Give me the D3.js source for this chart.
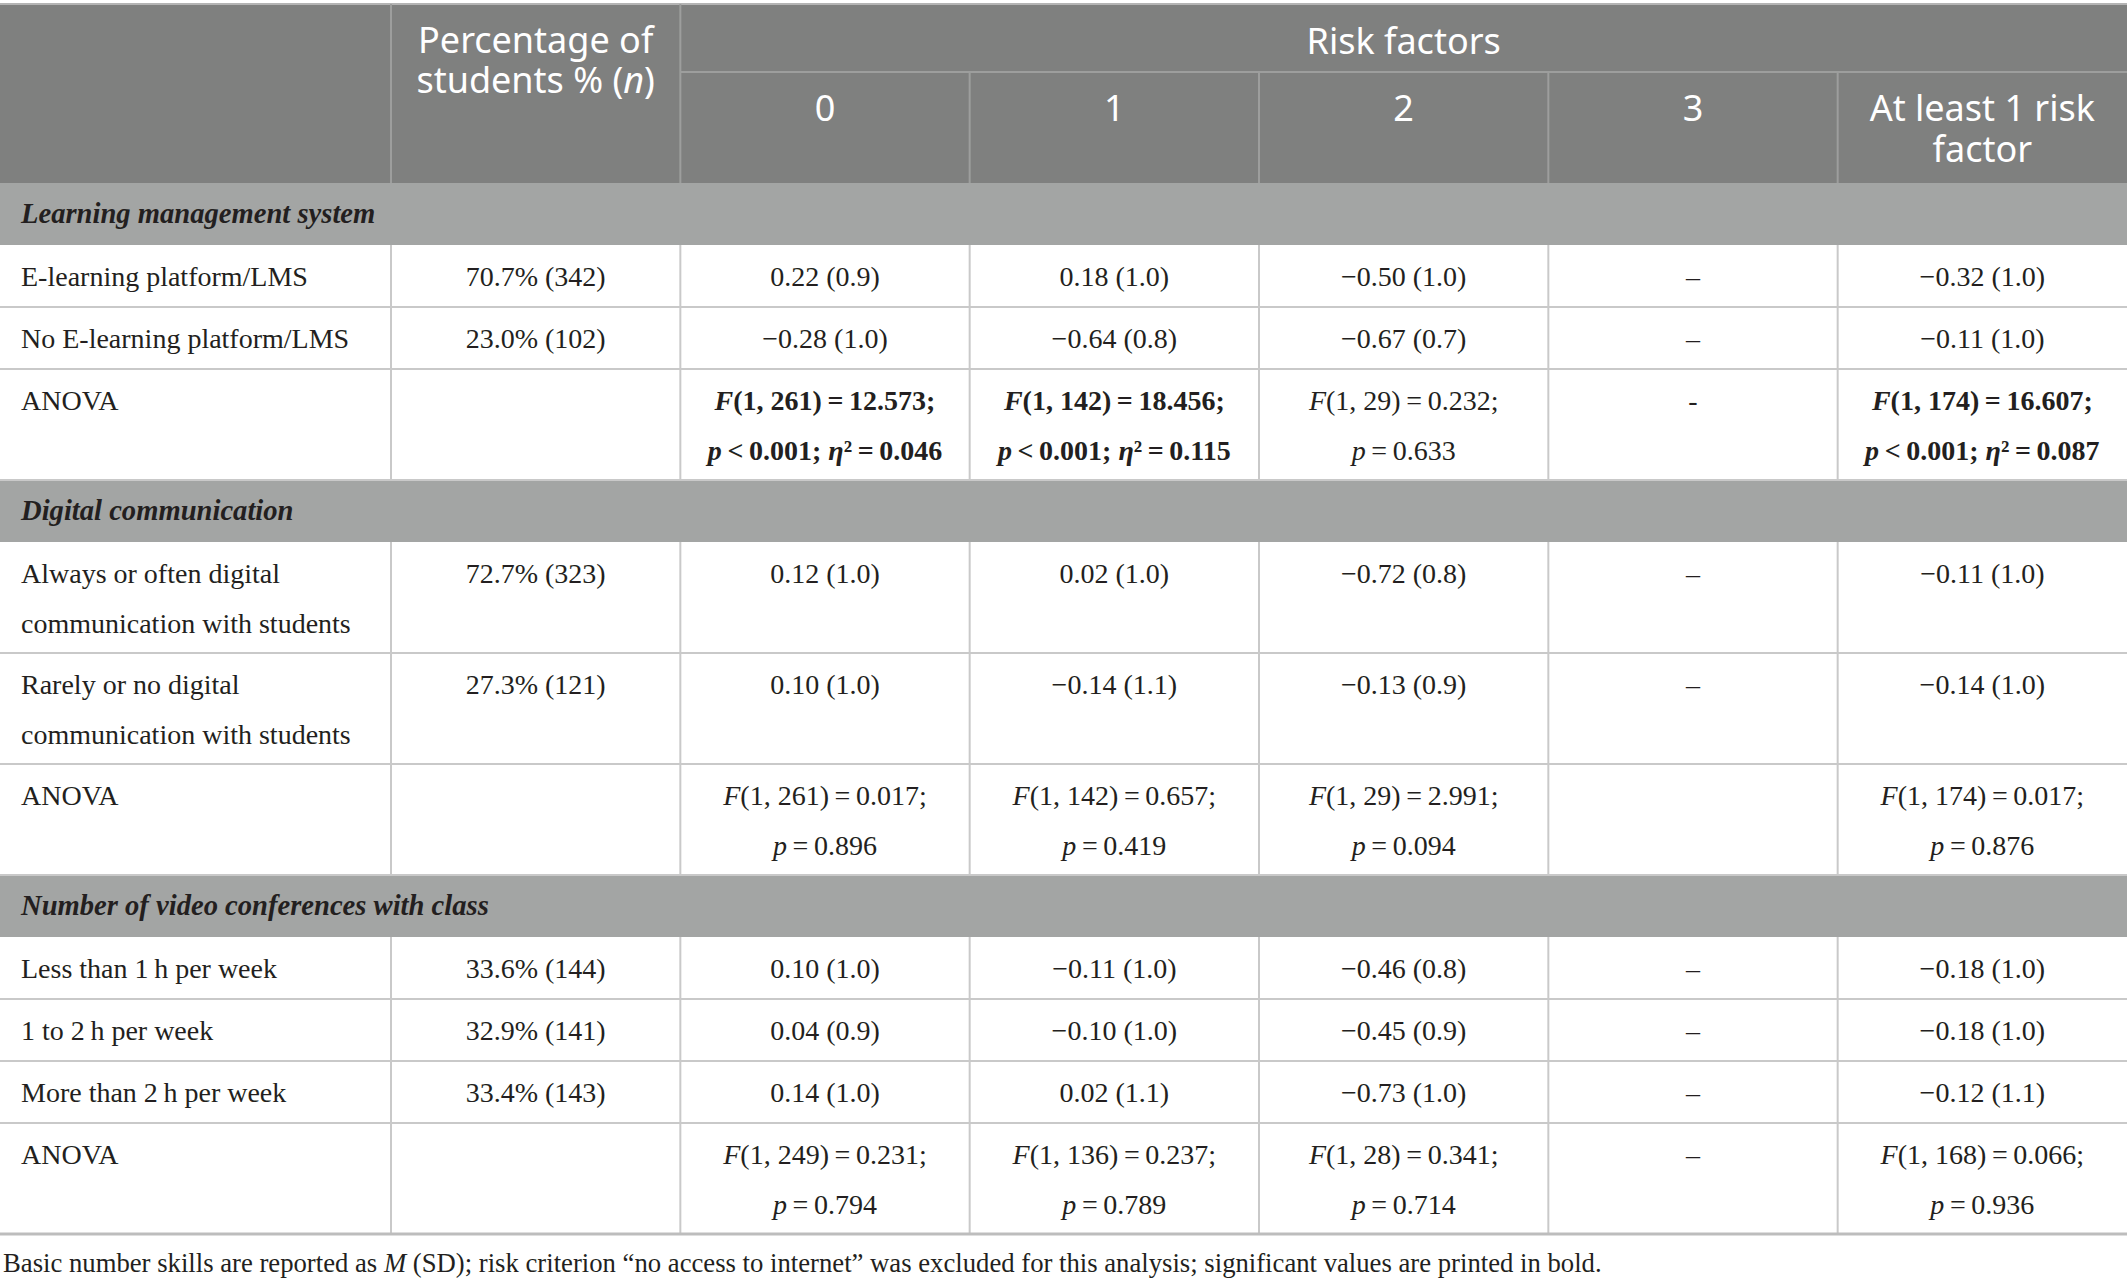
<!DOCTYPE html>
<html lang="en">
<head>
<meta charset="UTF-8">
<title>Basic number skills by risk factors</title>
<style>
body {margin: 0; background: #fff;}
svg text {font-family: "Liberation Serif", "Times New Roman", serif; fill: #231f20;}
svg text.head {font-family: "Noto Sans", "Open Sans", sans-serif; fill: #fff;}
</style>
</head>
<body>
<div id="table"></div>
<script src="https://d3js.org/d3.v7.min.js"></script>
<script>

// header texts
var percentHeader = ["Percentage of", "students % (n)"];
var groupHeader = "Risk factors";
var riskHeaders = [["0"], ["1"], ["2"], ["3"], ["At least 1 risk", "factor"]];
var sectionNames = ["Learning management system", "Digital communication", "Number of video conferences with class"];

// learning management system
var lmsLabels = [["E-learning platform/LMS"], ["No E-learning platform/LMS"]];
var lmsPercent = ["70.7% (342)", "23.0% (102)"];
var lmsValues = [
  ["0.22 (0.9)", "0.18 (1.0)", "−0.50 (1.0)", "–", "−0.32 (1.0)"],
  ["−0.28 (1.0)", "−0.64 (0.8)", "−0.67 (0.7)", "–", "−0.11 (1.0)"]
];
var lmsAnovaDf = ["1, 261", "1, 142", "1, 29", null, "1, 174"];
var lmsAnovaF = ["12.573", "18.456", "0.232", "-", "16.607"];
var lmsAnovaP = ["< 0.001", "< 0.001", "= 0.633", null, "< 0.001"];
var lmsAnovaEta = ["0.046", "0.115", null, null, "0.087"];
var lmsAnovaBold = [true, true, false, false, true];

// digital communication
var digLabels = [["Always or often digital", "communication with students"], ["Rarely or no digital", "communication with students"]];
var digPercent = ["72.7% (323)", "27.3% (121)"];
var digValues = [
  ["0.12 (1.0)", "0.02 (1.0)", "−0.72 (0.8)", "–", "−0.11 (1.0)"],
  ["0.10 (1.0)", "−0.14 (1.1)", "−0.13 (0.9)", "–", "−0.14 (1.0)"]
];
var digAnovaDf = ["1, 261", "1, 142", "1, 29", null, "1, 174"];
var digAnovaF = ["0.017", "0.657", "2.991", "", "0.017"];
var digAnovaP = ["= 0.896", "= 0.419", "= 0.094", null, "= 0.876"];
var digAnovaEta = [null, null, null, null, null];
var digAnovaBold = [false, false, false, false, false];

// video conferences
var vidLabels = [["Less than 1\u2009h per week"], ["1 to 2\u2009h per week"], ["More than 2\u2009h per week"]];
var vidPercent = ["33.6% (144)", "32.9% (141)", "33.4% (143)"];
var vidValues = [
  ["0.10 (1.0)", "−0.11 (1.0)", "−0.46 (0.8)", "–", "−0.18 (1.0)"],
  ["0.04 (0.9)", "−0.10 (1.0)", "−0.45 (0.9)", "–", "−0.18 (1.0)"],
  ["0.14 (1.0)", "0.02 (1.1)", "−0.73 (1.0)", "–", "−0.12 (1.1)"]
];
var vidAnovaDf = ["1, 249", "1, 136", "1, 28", null, "1, 168"];
var vidAnovaF = ["0.231", "0.237", "0.341", "–", "0.066"];
var vidAnovaP = ["= 0.794", "= 0.789", "= 0.714", null, "= 0.936"];
var vidAnovaEta = [null, null, null, null, null];
var vidAnovaBold = [false, false, false, false, false];

var footnote = [
  {t: "Basic number skills are reported as "}, {t: "M", i: true},
  {t: " (SD); risk criterion \u201cno access to internet\u201d was excluded for this analysis; significant values are printed in bold."}
];

var W = 2127, H = 1286;
var headTop = 4, headMid = 72, headBottom = 183;

// turn an ANOVA result into two lines of text pieces
function anovaCell(df, F, p, eta) {
  if (df == null) return [[{t: F}]];
  var l1 = [{t: "F", i: true}, {t: "(" + df + ")\u2009=\u2009" + F + ";"}];
  var l2 = [{t: "p", i: true}, {t: "\u2009" + p.replace(" ", "\u2009")}];
  if (eta != null) {
    l2[1].t += "; ";
    l2.push({t: "\u03b7", i: true}, {t: "\u00b2\u2009=\u2009" + eta});
  }
  return [l1, l2];
}

function section(name, labels, pct, values, df, F, p, eta, bold) {
  var out = [{kind: "section", label: name}];
  labels.forEach(function(lab, r) {
    out.push({kind: "data", label: lab, pct: pct[r],
      cells: values[r].map(function(v) { return {lines: [[{t: v}]], bold: false}; })});
  });
  out.push({kind: "data", label: ["ANOVA"], pct: "",
    cells: df.map(function(d, c) { return {lines: anovaCell(d, F[c], p[c], eta[c]), bold: bold[c]}; })});
  return out;
}

var rows = [].concat(
  section(sectionNames[0], lmsLabels, lmsPercent, lmsValues, lmsAnovaDf, lmsAnovaF, lmsAnovaP, lmsAnovaEta, lmsAnovaBold),
  section(sectionNames[1], digLabels, digPercent, digValues, digAnovaDf, digAnovaF, digAnovaP, digAnovaEta, digAnovaBold),
  section(sectionNames[2], vidLabels, vidPercent, vidValues, vidAnovaDf, vidAnovaF, vidAnovaP, vidAnovaEta, vidAnovaBold)
);

rows.forEach(function(d) {
  var n = d.kind == "section" ? 1 : d3.max([d.label.length].concat(d.cells.map(function(c) { return c.lines.length; })));
  d.h = n == 1 ? 62 : 111;
});
var tops = d3.cumsum([headBottom].concat(rows.map(function(d) { return d.h; })));
rows.forEach(function(d, i) { d.y = tops[i]; });
var tableBottom = tops[rows.length];

// columns: first label column, then percentage + 5 risk columns
var x = d3.scaleBand().domain(d3.range(6)).range([391, W]);
function cx(c) { return x(c) + x.bandwidth() / 2; }

var svg = d3.select("#table").append("svg")
  .attr("width", W).attr("height", H);

// one text element per cell, one line per row of pieces
function writeLines(g, lines, px, top, anchor, cls, first, step) {
  var t = g.append("text")
    .attr("class", cls || null)
    .attr("x", px).attr("y", top + first)
    .attr("text-anchor", anchor);
  lines.forEach(function(line, i) {
    line.forEach(function(s, j) {
      var ts = t.append("tspan").attr("font-style", s.i ? "italic" : null).text(s.t);
      if (i > 0 && j == 0) ts.attr("x", px).attr("dy", step);
    });
  });
}

// header block
svg.append("rect").attr("x", 0).attr("y", headTop).attr("width", W).attr("height", headBottom - headTop)
  .attr("fill", "#7f807f");
svg.append("line").attr("x1", 0).attr("x2", W).attr("y1", headTop).attr("y2", headTop)
  .attr("stroke", "#b4b4b4").attr("stroke-width", 2);
var hl = svg.append("g").attr("stroke", "#9d9e9d").attr("stroke-width", 2);
hl.append("line").attr("x1", x(0)).attr("x2", x(0)).attr("y1", headTop).attr("y2", headBottom);
hl.append("line").attr("x1", x(1)).attr("x2", x(1)).attr("y1", headTop).attr("y2", headBottom);
hl.append("line").attr("x1", x(1)).attr("x2", W).attr("y1", headMid).attr("y2", headMid);
hl.selectAll(".rv").data(d3.range(2, 6)).join("line")
  .attr("x1", function(c) { return x(c); }).attr("x2", function(c) { return x(c); })
  .attr("y1", headMid).attr("y2", headBottom);

var head = svg.append("g").attr("font-size", 36);
writeLines(head, [[{t: percentHeader[0]}], [{t: "students % ("}, {t: "n", i: true}, {t: ")"}]],
  cx(0), headTop, "middle", "head", 49, 40);
writeLines(head, [[{t: groupHeader}]], (x(1) + W) / 2, headTop, "middle", "head", 50, 41);
riskHeaders.forEach(function(h, c) {
  writeLines(head, h.map(function(s) { return [{t: s}]; }), cx(c + 1), headTop, "middle", "head", 117, 41);
});

// body rows
var body = svg.append("g").attr("font-size", 28);
var rowG = body.selectAll("g.row").data(rows).join("g").attr("class", "row");

rowG.filter(function(d) { return d.kind == "section"; })
  .each(function(d) {
    var g = d3.select(this);
    g.append("rect").attr("x", 0).attr("y", d.y).attr("width", W).attr("height", d.h).attr("fill", "#a3a5a4");
    g.append("text").attr("x", 21).attr("y", d.y + 40).attr("font-size", 28.6)
      .attr("font-style", "italic").attr("font-weight", "bold").text(d.label);
  });

rowG.filter(function(d) { return d.kind == "data"; })
  .each(function(d) {
    var g = d3.select(this);
    writeLines(g, d.label.map(function(s) { return [{t: s}]; }), 21, d.y, "start", null, 41, 50);
    writeLines(g, [[{t: d.pct}]], cx(0), d.y, "middle", null, 41, 50);
    d.cells.forEach(function(c, i) {
      var cg = g.append("g").attr("font-weight", c.bold ? "bold" : null);
      writeLines(cg, c.lines, cx(i + 1), d.y, "middle", null, 41, 50);
    });
  });

// grid lines of the body
var grid = svg.append("g").attr("stroke", "#c9c9c9").attr("stroke-width", 2);
rows.forEach(function(d) {
  if (d.kind == "data") {
    grid.append("line").attr("x1", 0).attr("x2", W).attr("y1", d.y + d.h).attr("y2", d.y + d.h);
    grid.selectAll(null).data(d3.range(6)).enter().append("line")
      .attr("x1", function(c) { return x(c); }).attr("x2", function(c) { return x(c); })
      .attr("y1", d.y).attr("y2", d.y + d.h);
  }
});
svg.append("line").attr("x1", 0).attr("x2", W).attr("y1", tableBottom).attr("y2", tableBottom)
  .attr("stroke", "#bdbdbd").attr("stroke-width", 3);

// footnote
writeLines(svg.append("g").attr("font-size", 26.7), [footnote], 3, tableBottom, "start", null, 38, 0);

</script>
</body>
</html>
